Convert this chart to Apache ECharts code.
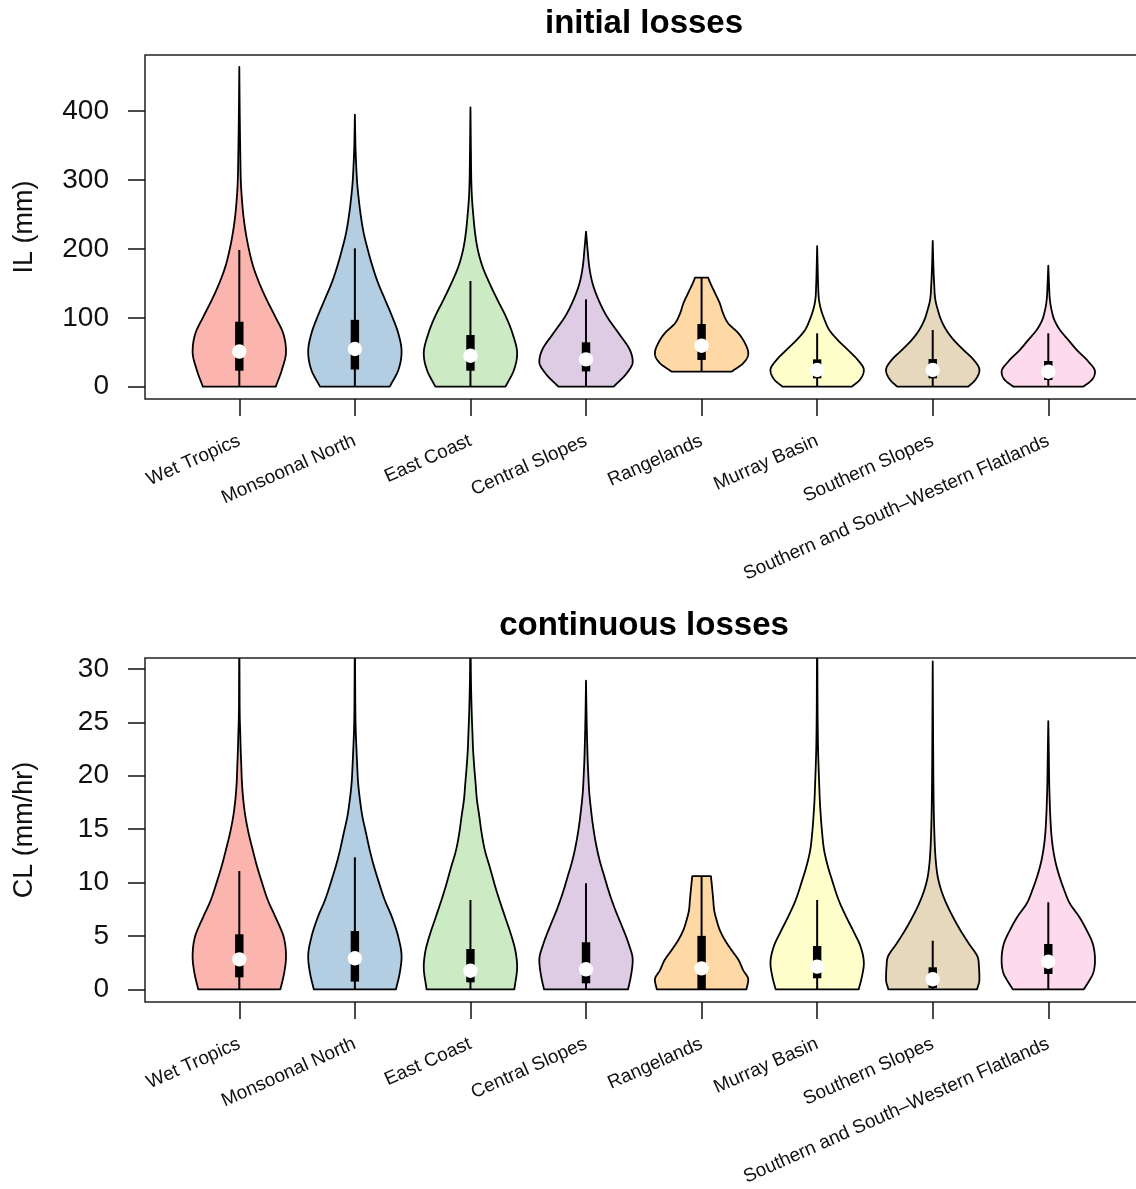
<!DOCTYPE html>
<html>
<head>
<meta charset="utf-8">
<script src="https://cdn.jsdelivr.net/npm/echarts@6/dist/echarts.min.js"></script>
<style>html,body{margin:0;padding:0;background:#fff}#c{width:1136px;height:1189px}</style>
</head>
<body>
<div id="c"></div>
<script>
// ---------- DATA ----------
const regions = ['Wet Tropics','Monsoonal North','East Coast','Central Slopes','Rangelands','Murray Basin','Southern Slopes','Southern and South\u2013Western Flatlands'];
const fillColors = ['#FBB4AE','#B3CDE3','#CCEBC5','#DECBE4','#FED9A6','#FFFFCC','#E5D8BD','#FDDAEC'];

const ilTicks = [0,100,200,300,400];
const clTicks = [0,5,10,15,20,25,30];

// Initial losses: violin outlines as [value (mm), relative half-width]
const ilWetTropics = [[0,0.78],[24,0.91],[51,1.0],[77.5,0.94],[101.6,0.77],[125.8,0.59],[150,0.43],[174,0.30],[198,0.21],[222.6,0.14],[246.7,0.09],[271,0.057],[295,0.035],[343.6,0.02],[392,0.01],[464,0]];
const ilMonsoonal = [[0,0.745],[24,0.93],[51,1.0],[77.5,0.93],[101.6,0.80],[125.8,0.65],[150,0.5],[174,0.38],[198,0.28],[222.6,0.19],[246.7,0.13],[271,0.085],[295,0.05],[319,0.03],[343.6,0.015],[395,0]];
const ilEastCoast = [[0,0.75],[24,0.93],[48,1.0],[77.5,0.9],[101.6,0.76],[125.8,0.58],[150,0.41],[174,0.26],[198,0.16],[222.6,0.1],[246.7,0.064],[271,0.035],[295,0.02],[343.6,0.01],[405.5,0]];
const ilCentral = [[0,0.59],[19.4,0.87],[36.3,1.0],[53.3,0.94],[77.5,0.70],[101.6,0.45],[125.8,0.27],[150,0.14],[174,0.07],[198,0.035],[225,0]];
const ilRangelands = [[21.8,0.64],[34,0.89],[48.4,1.0],[63,0.93],[77.5,0.79],[92,0.57],[106.5,0.46],[121,0.39],[135.6,0.29],[150,0.19],[158.2,0.14]];
const ilMurray = [[0,0.74],[9.7,0.91],[24.2,1.0],[38.8,0.87],[53.3,0.66],[67.8,0.44],[82.3,0.26],[96.8,0.16],[111.3,0.085],[125.8,0.04],[150,0.02],[174,0.01],[204,0]];
const ilSouthernSlopes = [[0,0.76],[9.7,0.91],[24.2,1.0],[38.8,0.88],[53.3,0.66],[67.8,0.45],[82.3,0.29],[96.8,0.18],[111.3,0.11],[125.8,0.057],[150,0.03],[174,0.015],[211.5,0]];
const ilFlatlands = [[0,0.745],[9.7,0.93],[21.8,1.0],[36.3,0.86],[53.3,0.61],[67.8,0.43],[82.3,0.25],[96.8,0.13],[111.3,0.07],[125.8,0.035],[150,0.015],[175.6,0]];

// Initial losses box-plot statistics (mm)
const ilWhiskerLow = [0,0,0,0,21.8,0,0,0];
const ilQ1 = [23.2,25,23.2,22.2,38.8,12.1,12.1,9.7];
const ilMedian = [51,54.7,45,39.7,59.5,24.2,24.2,21.8];
const ilQ3 = [94.3,97,75,64.4,91,39.7,40.2,37.3];
const ilWhiskerHigh = [198.4,200.8,153.4,126.8,158.2,77.5,82.3,77.5];

// Continuous losses: violin outlines as [value (mm/hr), relative half-width]
const clWetTropics = [[0,0.88],[1.5,0.96],[3.05,1.0],[4.9,0.95],[6.8,0.77],[8.36,0.61],[9.93,0.49],[11.5,0.38],[13.0,0.29],[14.6,0.2],[16.2,0.13],[17.7,0.086],[19.3,0.057],[20.9,0.043],[22.4,0.03],[24.0,0.02],[25.5,0.01],[29,0.005],[34,0]];
const clMonsoonal = [[0,0.88],[1.5,0.96],[3.05,1.0],[4.9,0.93],[6.8,0.79],[8.36,0.64],[9.93,0.52],[11.5,0.41],[13.0,0.32],[14.6,0.24],[16.2,0.16],[17.7,0.11],[19.3,0.07],[20.9,0.05],[22.4,0.035],[24.0,0.02],[25.5,0.012],[29,0.006],[34,0]];
const clEastCoast = [[0,0.94],[2.1,1.0],[3.68,0.96],[5.24,0.86],[6.8,0.74],[8.36,0.62],[9.93,0.51],[11.5,0.41],[13.0,0.31],[14.6,0.24],[16.2,0.19],[17.7,0.14],[19.3,0.11],[20.9,0.08],[22.4,0.057],[24.0,0.043],[25.5,0.03],[27.1,0.02],[28.7,0.012],[31,0.006],[34,0]];
const clCentral = [[0,0.9],[1.2,0.96],[2.74,1.0],[4.3,0.91],[5.9,0.77],[7.4,0.63],[9.0,0.5],[10.6,0.39],[12.1,0.29],[13.7,0.21],[15.3,0.15],[16.8,0.107],[18.4,0.07],[20.0,0.05],[21.5,0.035],[23.0,0.025],[25.5,0.012],[28.9,0]];
const clRangelands = [[0,0.96],[0.9,1.0],[1.8,0.89],[2.75,0.79],[3.68,0.64],[4.6,0.5],[5.55,0.39],[6.5,0.32],[7.4,0.27],[8.36,0.25],[9.3,0.23],[10.6,0.2]];
const clMurray = [[0,0.89],[1.2,0.96],[2.43,1.0],[4.0,0.93],[5.24,0.8],[6.8,0.62],[8.36,0.46],[9.93,0.34],[11.5,0.23],[13.0,0.15],[14.6,0.107],[16.2,0.078],[17.7,0.057],[19.3,0.043],[20.9,0.03],[22.4,0.02],[25.5,0.01],[30,0.005],[34,0]];
const clSouthernSlopes = [[0,0.95],[0.9,1.0],[2.1,0.99],[3.05,0.96],[4.3,0.77],[5.55,0.59],[6.8,0.43],[8.05,0.29],[9.3,0.18],[10.55,0.107],[11.8,0.07],[13.0,0.05],[14.6,0.035],[16.2,0.025],[19.3,0.015],[22.4,0.01],[30.7,0]];
const clFlatlands = [[0,0.76],[0.9,0.89],[1.5,0.96],[2.74,1.0],[4.3,0.95],[5.55,0.82],[6.8,0.66],[8.05,0.46],[9.3,0.34],[10.55,0.24],[11.8,0.16],[13.0,0.107],[14.3,0.07],[16.2,0.043],[17.7,0.03],[19.3,0.02],[22.4,0.01],[25.1,0]];

// Continuous losses box-plot statistics (mm/hr)
const clWhiskerLow = [0,0,0,0,0,0,0,0];
const clQ1 = [1.12,0.72,0.65,0.56,0,1.03,0.1,1.43];
const clMedian = [2.8,2.9,1.74,1.87,1.96,2.12,0.94,2.58];
const clQ3 = [5.15,5.46,3.77,4.4,5.0,4.05,2.06,4.24];
const clWhiskerHigh = [11.08,12.36,8.36,9.93,10.6,8.36,4.55,8.15];

const ilProfiles = [ilWetTropics,ilMonsoonal,ilEastCoast,ilCentral,ilRangelands,ilMurray,ilSouthernSlopes,ilFlatlands];
const clProfiles = [clWetTropics,clMonsoonal,clEastCoast,clCentral,clRangelands,clMurray,clSouthernSlopes,clFlatlands];

// ---------- RENDERING ----------
const FONT = '"Liberation Sans", Arial, Helvetica, sans-serif';
const HALF_WIDTH = 0.404; // x-axis units for the widest point of each violin

function makeInterp(pts) {
  const n = pts.length, xs = pts.map(p => p[0]), ys = pts.map(p => p[1]);
  const d = [], m = [];
  for (let i = 0; i < n - 1; i++) d[i] = (ys[i+1] - ys[i]) / (xs[i+1] - xs[i]);
  m[0] = d[0]; m[n-1] = d[n-2];
  for (let i = 1; i < n - 1; i++) m[i] = (d[i-1] * d[i] <= 0) ? 0 : (d[i-1] + d[i]) / 2;
  for (let i = 0; i < n - 1; i++) {
    if (d[i] === 0) { m[i] = 0; m[i+1] = 0; continue; }
    const a = m[i] / d[i], b = m[i+1] / d[i], s = a*a + b*b;
    if (s > 9) { const t = 3 / Math.sqrt(s); m[i] = t*a*d[i]; m[i+1] = t*b*d[i]; }
  }
  return function (v) {
    let k = 0;
    while (k < n - 2 && v > xs[k+1]) k++;
    const h = xs[k+1] - xs[k], t = Math.min(1, Math.max(0, (v - xs[k]) / h));
    const t2 = t*t, t3 = t2*t;
    return (2*t3 - 3*t2 + 1) * ys[k] + (t3 - 2*t2 + t) * h * m[k] + (-2*t3 + 3*t2) * ys[k+1] + (t3 - t2) * h * m[k+1];
  };
}

function makeRender(profiles) {
  return function (params, api) {
    const i = params.dataIndex;
    const x = api.value(0);
    const prof = profiles[i];
    const interp = makeInterp(prof);
    const vMin = prof[0][0], vMax = prof[prof.length - 1][0];
    const cx = api.coord([x, 0])[0];
    const halfPx = api.size([HALF_WIDTH, 0])[0];
    const N = 240, left = [], right = [];
    for (let k = 0; k <= N; k++) {
      const v = vMin + (vMax - vMin) * k / N;
      const w = Math.max(0, interp(v)) * halfPx;
      const y = api.coord([x, v])[1];
      left.push([cx - w, y]);
      right.push([cx + w, y]);
    }
    const pts = left.concat(right.reverse());
    const yLo = api.coord([x, api.value(1)])[1];
    const yQ1 = api.coord([x, api.value(2)])[1];
    const yMed = api.coord([x, api.value(3)])[1];
    const yQ3 = api.coord([x, api.value(4)])[1];
    const yHi = api.coord([x, api.value(5)])[1];
    return {
      type: 'group',
      children: [
        { type: 'polygon', shape: { points: pts }, style: { fill: fillColors[i], stroke: '#000', lineWidth: 1.8, lineJoin: 'round' } },
        { type: 'line', shape: { x1: cx, y1: yLo, x2: cx, y2: yHi }, style: { stroke: '#000', lineWidth: 2 } },
        { type: 'rect', shape: { x: cx - 4.2, y: yQ3, width: 8.4, height: yQ1 - yQ3 }, style: { fill: '#000' } },
        { type: 'circle', shape: { cx: cx, cy: yMed, r: 7.2 }, style: { fill: '#fff' } }
      ]
    };
  };
}

const positions = regions.map((r, i) => i + 1);
const ilData = positions.map((p, i) => [p, ilWhiskerLow[i], ilQ1[i], ilMedian[i], ilQ3[i], ilWhiskerHigh[i]]);
const clData = positions.map((p, i) => [p, clWhiskerLow[i], clQ1[i], clMedian[i], clQ3[i], clWhiskerHigh[i]]);

function xAxisFor(gi) {
  return {
    type: 'value', gridIndex: gi, min: 0.184, max: 8.816, position: 'bottom',
    axisLine: { show: false, onZero: false },
    splitLine: { show: false },
    axisTick: { show: true, customValues: positions, length: 17, lineStyle: { color: '#111', width: 1.5 } },
    axisLabel: {
      customValues: positions, rotate: 24, margin: 41, fontSize: 19, fontFamily: FONT, color: '#111',
      formatter: v => regions[Math.round(v) - 1]
    }
  };
}
function yAxisFor(gi, mn, mx, ticks, name) {
  return {
    type: 'value', gridIndex: gi, min: mn, max: mx, position: 'left',
    name: name, nameLocation: 'middle', nameGap: 107,
    nameTextStyle: { fontSize: 27, fontFamily: FONT, color: '#111' },
    axisLine: { show: false, onZero: false },
    splitLine: { show: false },
    axisTick: { show: true, customValues: ticks, length: 17, lineStyle: { color: '#111', width: 1.5 } },
    axisLabel: { customValues: ticks, margin: 36, fontSize: 28, fontFamily: FONT, color: '#111' }
  };
}

const chart = echarts.init(document.getElementById('c'), null, { renderer: 'canvas' });
chart.setOption({
  animation: false,
  backgroundColor: '#fff',
  graphic: [
    { type: 'text', x: 644, y: 24, style: { text: 'initial losses', font: 'bold 33px ' + FONT, fill: '#000', align: 'center', verticalAlign: 'middle' } },
    { type: 'text', x: 644, y: 626, style: { text: 'continuous losses', font: 'bold 33px ' + FONT, fill: '#000', align: 'center', verticalAlign: 'middle' } }
  ],
  grid: [
    { left: 145, top: 55, width: 997.6, height: 344, show: true, borderColor: '#222', borderWidth: 1.5, backgroundColor: 'transparent', outerBoundsMode: 'none', containLabel: false },
    { left: 145, top: 658, width: 997.6, height: 344, show: true, borderColor: '#222', borderWidth: 1.5, backgroundColor: 'transparent', outerBoundsMode: 'none', containLabel: false }
  ],
  xAxis: [xAxisFor(0), xAxisFor(1)],
  yAxis: [
    yAxisFor(0, -17.85, 481.4, ilTicks, 'IL (mm)'),
    yAxisFor(1, -1.19, 31.02, clTicks, 'CL (mm/hr)')
  ],
  series: [
    { type: 'custom', xAxisIndex: 0, yAxisIndex: 0, clip: true, renderItem: makeRender(ilProfiles), data: ilData, encode: { x: 0, y: [1,2,3,4,5] } },
    { type: 'custom', xAxisIndex: 1, yAxisIndex: 1, clip: true, renderItem: makeRender(clProfiles), data: clData, encode: { x: 0, y: [1,2,3,4,5] } }
  ]
});
</script>
</body>
</html>
